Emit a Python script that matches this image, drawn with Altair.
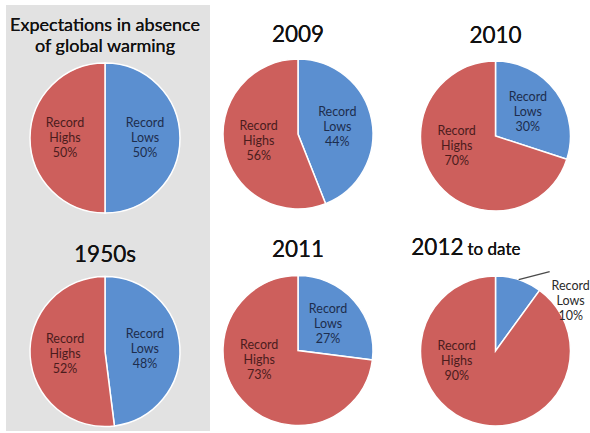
import altair as alt
import pandas as pd

# Share of daily temperature records that were highs vs. lows
titles = ["Expectations in absence\nof global warming", "2009", "2010", "1950s", "2011", "2012"]
title_suffix = ["", "", "", "", "", "to date"]
highs = [50, 56, 70, 52, 73, 90]
lows = [50, 44, 30, 48, 27, 10]

RED = "#cd5f5c"
BLUE = "#5b8fd0"
GRAY = "#e2e2e2"
FONT = "Lato"
R = 75          # pie radius
LAB_R = 40      # distance of inside labels from the centre
LINE_H = 15     # line height of the three-line slice labels

# layout of the 2 x 3 grid (columns / rows in px) and pie centres inside each panel
COL_W = [204, 185, 195]
ROW_H = [213, 213]
centers = [(99, 133), (88, 129), (100.5, 131), (99, 133.5), (88, 132.5), (100.5, 133)]
title_y = [26, 37, 38, 44, 39, 37]

rows = []
for i, (h, l) in enumerate(zip(highs, lows)):
    rows.append(dict(panel=i, category="Record Lows", short="Lows", value=l, ord=0))
    rows.append(dict(panel=i, category="Record Highs", short="Highs", value=h, ord=1))
df = pd.DataFrame(rows)
df["label"] = "Record\n" + df["short"] + "\n" + df["value"].astype(str) + "%"


def panel(i):
    cx, cy = centers[i]
    base = alt.Chart(df).transform_filter(f"datum.panel == {i}")

    arc = base.mark_arc(radius=R, stroke="white", strokeWidth=1.5).encode(
        theta=alt.Theta("value:Q", stack=True),
        order=alt.Order("ord:Q"),
        color=alt.Color(
            "category:N",
            scale=alt.Scale(domain=["Record Lows", "Record Highs"], range=[BLUE, RED]),
            legend=None,
        ),
        x=alt.value(cx),
        y=alt.value(cy),
    )

    geo = (
        base.transform_stack(
            as_=["v0", "v1"], stack="value", groupby=["panel"],
            sort=[alt.SortField("ord", order="ascending")],
        )
        .transform_joinaggregate(total="sum(value)", groupby=["panel"])
        .transform_calculate(mid="PI * (datum.v0 + datum.v1) / datum.total")
        .transform_calculate(
            # keep the big "highs" label up near the horizontal
            ang="datum.category == 'Record Highs' ? max(datum.mid, 256 * PI / 180) : datum.mid",
            ex=f"{cx} + {R} * sin(datum.mid)",
            ey=f"{cy} - {R} * cos(datum.mid)",
        )
        .transform_calculate(
            lx=f"{cx} + {LAB_R} * sin(datum.ang)",
            ly=f"{cy} - {LAB_R} * cos(datum.ang)",
            qx="datum.ex + 31",
            qy="datum.ey - 8",
            ox="datum.ex + 52",
            oy="datum.ey + 21",
        )
    )

    inside = geo.transform_filter("datum.value >= 15").mark_text(
        font=FONT, fontSize=12.5, fontWeight="normal", lineBreak="\n", lineHeight=LINE_H,
        align="center", baseline="middle", dy=-LINE_H,
    ).encode(
        x=alt.X("lx:Q", scale=None),
        y=alt.Y("ly:Q", scale=None),
        text="label:N",
        color=alt.condition(
            "datum.category == 'Record Highs'", alt.value("#4b1c1c"), alt.value("#1d2d4d")
        ),
    )

    outside_geo = geo.transform_filter("datum.value < 15")
    leader = outside_geo.mark_rule(color="#4a4a4a", strokeWidth=1.3).encode(
        x=alt.X("ex:Q", scale=None), y=alt.Y("ey:Q", scale=None),
        x2="qx:Q", y2="qy:Q",
    )
    outside = outside_geo.mark_text(
        font=FONT, fontSize=12.5, fontWeight="normal", lineBreak="\n", lineHeight=LINE_H,
        align="center", baseline="middle", color="#2a2a2a", dy=-LINE_H,
    ).encode(
        x=alt.X("ox:Q", scale=None), y=alt.Y("oy:Q", scale=None), text="label:N",
    )

    layers = [arc, inside, leader, outside]

    big = 18 if "\n" in titles[i] else 22.5
    if title_suffix[i]:
        layers.append(
            base.mark_text(
                text=titles[i], font=FONT, fontSize=big, fontWeight="normal", color="#111111",
                align="right", baseline="alphabetic",
            ).encode(x=alt.value(cx - 32), y=alt.value(title_y[i]))
        )
        layers.append(
            base.mark_text(
                text=title_suffix[i], font=FONT, fontSize=17, fontWeight="normal", color="#111111",
                align="left", baseline="alphabetic",
            ).encode(x=alt.value(cx - 28), y=alt.value(title_y[i]))
        )
    else:
        layers.append(
            base.mark_text(
                text=titles[i], font=FONT, fontSize=big, fontWeight="normal", color="#111111",
                align="center", baseline="alphabetic", lineBreak="\n", lineHeight=21,
            ).encode(x=alt.value(cx), y=alt.value(title_y[i]))
        )

    col, row = i % 3, i // 3
    fill = GRAY if col == 0 else "white"
    return alt.layer(*layers).properties(
        width=COL_W[col], height=ROW_H[row],
        view=alt.ViewBackground(fill=fill, strokeWidth=0),
    )


columns = [alt.vconcat(panel(c), panel(c + 3), spacing=0) for c in range(3)]

chart = (
    alt.hconcat(*columns, spacing=0)
    .properties(padding={"left": 6, "top": 5, "right": 0, "bottom": 2}, background="white")
    .configure_view(strokeWidth=0)
)

chart.save("out.html", embed_options={"renderer": "svg", "actions": False})
